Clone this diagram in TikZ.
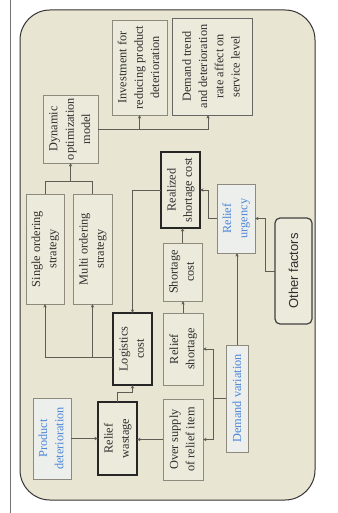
\documentclass[tikz,border=0pt]{standalone}
\usepackage{fontspec}
\setmainfont{Liberation Serif}
\newfontfamily\sansfnt{Liberation Sans}
\usetikzlibrary{arrows.meta,calc}
\definecolor{bgfill}{HTML}{E8E5D2}
\definecolor{boxfill}{HTML}{ECEADB}
\definecolor{bluefill}{HTML}{EDEFEC}
\definecolor{thinline}{HTML}{8E8B7E}
\definecolor{conn}{HTML}{5E5C55}
\definecolor{bluetext}{HTML}{4C86D8}
\definecolor{darktext}{HTML}{2E2E2E}
\newcommand{\rtxt}[1]{\rotatebox{90}{\begin{tabular}{@{}c@{}}#1\end{tabular}}}
\begin{document}
\begin{tikzpicture}[x=1pt,y=-1pt,
  every node/.style={inner sep=0pt,outer sep=0pt},
  basebox/.style={draw, fill=boxfill, text=darktext,
    font=\fontsize{12.3}{16.3}\selectfont},
  thinbox/.style={basebox, draw=thinline, line width=0.8pt},
  thickbox/.style={basebox, draw=black!85, line width=1.6pt},
  medbox/.style={basebox, draw=black!60, line width=0.9pt},
  bluebox/.style={basebox, draw=thinline, line width=0.8pt, fill=bluefill, text=bluetext},
  otherbox/.style={draw=black!75, line width=1.2pt, fill=boxfill, rounded corners=5pt,
    text=darktext, font=\sansfnt\fontsize{13}{16}\selectfont},
  conline/.style={draw=conn, line width=0.6pt},
  arr/.style={conline, -{Stealth[length=3.6pt,width=3.4pt]}}
]
\useasboundingbox (0,0) rectangle (337,513);
\draw[draw=black!55, line width=0.7pt] (10,0) -- (10,513);
\draw[draw=black!80, line width=1pt, fill=bgfill, rounded corners=30pt] (20,10) rectangle (315,500);

% nodes
\node[thinbox, minimum width=55pt, minimum height=95pt] (inv) at (139.5,67.5)
  {\rtxt{Investment for\\reducing product\\deterioration}};
\node[medbox, minimum width=80pt, minimum height=97pt] (dem) at (212,66.5)
  {\rtxt{Demand trend\\and deterioration\\rate affect on\\service level}};
\node[thinbox, minimum width=55pt, minimum height=68pt] (dyn) at (70.5,129)
  {\rtxt{Dynamic\\optimization\\model}};
\node[thinbox, minimum width=38pt, minimum height=110pt] (single) at (45,249)
  {\rtxt{Single ordering\\strategy}};
\node[thinbox, minimum width=39pt, minimum height=110pt] (multi) at (92.5,249)
  {\rtxt{Multi ordering\\strategy}};
\node[thickbox, minimum width=39pt, minimum height=72pt] (logi) at (132.5,349)
  {\rtxt{Logistics\\cost}};
\node[thickbox, minimum width=39pt, minimum height=76pt] (real) at (180.5,190)
  {\rtxt{Realized\\shortage cost}};
\node[thinbox, minimum width=39pt, minimum height=58pt] (short) at (182.5,272)
  {\rtxt{Shortage\\cost}};
\node[thinbox, minimum width=40pt, minimum height=72pt] (rshort) at (183,349)
  {\rtxt{Relief\\shortage}};
\node[bluebox, minimum width=38pt, minimum height=69pt] (urg) at (236,218.5)
  {\rtxt{Relief\\urgency}};
\node[otherbox, minimum width=37pt, minimum height=106pt] (other) at (293.5,271)
  {\rotatebox{90}{Other factors}};
\node[bluebox, minimum width=22pt, minimum height=107pt] (demvar) at (237,398.5)
  {\rotatebox{90}{Demand variation}};
\node[thinbox, minimum width=40pt, minimum height=81pt] (over) at (183,439.5)
  {\rtxt{Over supply\\of relief item}};
\node[thickbox, minimum width=39pt, minimum height=73pt] (wast) at (117.5,438.5)
  {\rtxt{Relief\\wastage}};
\node[bluebox, minimum width=38pt, minimum height=81pt] (pd) at (52,438.5)
  {\rtxt{Product\\deterioration}};

% connectors
\draw[arr] (dyn.east) -| (inv.south);
\draw[arr] (dyn.east) -| ([xshift=-4pt]dem.south);
\draw[conline] (single.north) -- ++(0,-13) -| (multi.north);
\coordinate (brk) at (70.5,181);
\draw[arr] (brk) -- (dyn.south);
\draw[arr] ([yshift=-8pt]logi.west) -| (single.south);
\draw[arr] ([yshift=-8pt]logi.west) -| (multi.south);
\draw[arr] (real.west) -| (logi.north);
\draw[arr] (short.north) -- (short.north |- real.south);
\draw[arr] (rshort.north) -- (rshort.north |- short.south);
\draw[arr] (urg.west) -- ++(-9,0) |- (real.east);
\draw[arr] (other.west) -- ++(-10,0) |- (urg.east);
\draw[arr] (demvar.north) -- (demvar.north |- urg.south);
\draw[arr] (demvar.west) -- ++(-13,0) |- (rshort.east);
\draw[arr] (demvar.west) -- ++(-13,0) |- (over.east);
\draw[arr] (over.west) -- (over.west -| wast.east);
\draw[arr] (pd.east) -- (pd.east -| wast.west);
\draw[arr] (wast.north) -- ++(0,-10) -| (logi.south);
\end{tikzpicture}
\end{document}
